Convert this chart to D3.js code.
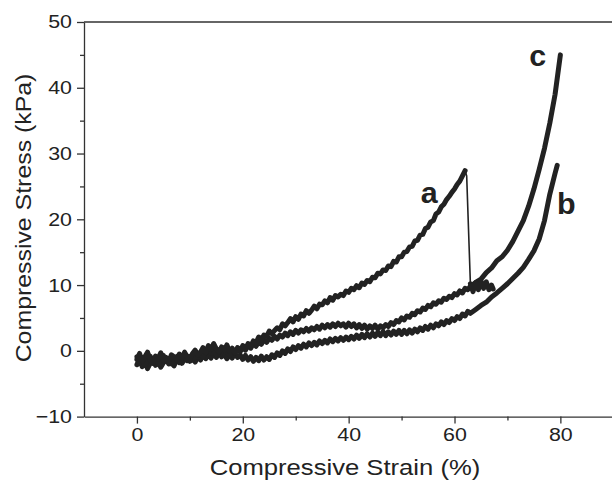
<!DOCTYPE html>
<html>
<head>
<meta charset="utf-8">
<script src="https://cdn.jsdelivr.net/npm/d3@7/dist/d3.min.js"></script>
<style>
  html, body { margin: 0; padding: 0; background: #fff; }
  svg { display: block; }
  text { font-family: "Liberation Sans", Arial, sans-serif; fill: #222; }
</style>
</head>
<body>
<svg id="chart" width="612" height="480"></svg>
<script>
// ---- data ----
const xTicksMajor = [0, 20, 40, 60, 80];
const xTicksMinor = [10, 30, 50, 70];
const yTicksMajor = [-10, 0, 10, 20, 30, 40, 50];
const yTicksMinor = [-5, 5, 15, 25, 35, 45];

// shared strain sampling (%) for the noisy low-strain part of every curve
const strainGrid = [0,0.5,1,1.5,2,2.5,3,3.5,4,4.5,5,5.5,6,6.5,7,7.5,8,8.5,9,9.5,10,10.5,11,11.5,12,12.5,13,13.5,14,14.5,15,15.5,16,16.5,17,17.5,18,18.5,19,19.5,20,20.5,21,21.5,22,22.5,23,23.5,24,24.5,25,25.5,26,26.5,27,27.5,28,28.5,29,29.5,30,30.5,31,31.5,32,32.5,33,33.5,34,34.5,35,35.5,36,36.5,37,37.5,38,38.5,39,39.5,40,40.5,41,41.5,42,42.5,43,43.5,44,44.5,45,45.5,46,46.5,47,47.5,48,48.5,49,49.5,50,50.5,51,51.5,52,52.5,53,53.5,54,54.5,55,55.5,56,56.5,57,57.5,58,58.5,59,59.5,60,60.5,61,61.5,62,62.5,63];

// curve a: loading up to failure (strain 0 .. 62)
const stressA = [-1.3,-0.4,-1.6,-0.9,-0.2,-1.4,-1.9,-0.8,-1.2,-0.3,-1.5,-1.0,-1.7,-0.6,-0.9,-1.4,-0.5,-1.1,-0.2,-0.9,-1.3,-0.4,0.1,-0.7,-0.2,0.5,-0.3,0.8,0.2,1.1,0.3,-0.2,0.6,0.1,0.9,-0.1,0.4,-0.3,0.5,0.0,0.8,0.3,1.1,0.7,1.5,1.2,2.1,1.7,2.4,2.2,3.0,2.6,3.1,3.5,3.2,4.1,3.8,4.3,4.9,4.4,5.2,4.8,5.6,5.3,6.1,5.7,6.2,6.8,6.4,7.1,7.0,7.6,7.3,8.1,7.7,8.4,8.2,8.6,8.4,9.1,8.9,9.5,9.3,9.9,9.6,10.3,10.1,10.7,10.5,11.2,11.1,11.8,11.7,12.3,12.2,12.9,12.8,13.6,13.5,14.3,14.3,15.0,15.1,15.8,15.9,16.7,16.8,17.6,17.7,18.6,18.8,19.6,19.8,20.8,21.1,21.9,22.3,23.0,23.5,24.1,24.6,25.3,25.8,26.6,27.4];
// curve a: sudden drop after failure
const strainADrop = [62, 62.3, 63];
const stressADrop = [27.4, 26.6, 10.2];
// curve a: tail after the drop
const strainATail = [63, 63.5, 64, 64.5, 65, 65.5, 66, 66.5, 67, 67.3];
const stressATail = [10.2, 9.0, 10.4, 9.3, 10.6, 9.5, 10.5, 9.3, 10.0, 9.4];

// curve c (strain 0 .. 63 on strainGrid, then the steep part)
const stressC = [-0.9,-1.9,-1.2,-2.2,-1.5,-0.8,-1.7,-1.1,-2.0,-1.4,-0.7,-1.6,-1.2,-2.0,-1.3,-0.9,-1.8,-1.2,-0.6,-1.5,-0.9,-1.4,-0.5,-1.0,-0.3,-0.9,-0.2,0.4,-0.4,0.2,-0.6,0.1,-0.3,0.4,-0.2,-0.7,0.1,-0.4,0.3,-0.1,0.5,0.1,0.8,0.4,1.1,0.7,1.3,1.0,1.7,1.3,1.9,1.6,2.2,1.8,2.4,2.1,2.7,2.3,2.9,2.5,3.1,2.7,3.2,2.9,3.4,3.0,3.5,3.2,3.7,3.3,3.9,3.5,4.0,3.6,4.1,3.7,4.2,3.8,4.1,3.6,4.2,3.7,4.1,3.5,4.0,3.4,3.9,3.3,3.8,3.4,3.9,3.3,3.8,3.5,4.0,3.7,4.3,4.0,4.6,4.4,5.0,4.7,5.3,5.1,5.7,5.5,6.1,5.9,6.5,6.3,6.9,6.7,7.3,7.1,7.6,7.4,8.0,7.8,8.3,8.1,8.7,8.5,9.1,8.8,9.5,9.3,9.8];
const strainCSteep = [64, 65, 66, 67, 68, 69, 70, 71, 72, 73, 74, 75, 76, 77, 78, 79, 80];
const stressCSteep = [10.4, 10.9, 11.9, 12.6, 13.7, 14.3, 15.3, 16.6, 18.2, 19.8, 22.0, 24.6, 27.6, 30.8, 34.6, 39.0, 45.0];

// curve b (strain 0 .. 63 on strainGrid, then the steep part)
const stressB = [-2.1,-1.2,-2.4,-1.6,-2.7,-1.9,-1.3,-2.2,-1.6,-2.5,-1.8,-1.2,-2.0,-1.5,-2.3,-1.4,-1.0,-1.9,-1.3,-0.8,-1.6,-1.0,-1.7,-0.9,-1.4,-0.6,-1.2,-0.5,-1.1,-0.4,-1.0,-0.3,-0.9,-0.5,-1.2,-0.6,-1.1,-0.4,-1.0,-0.6,-1.3,-0.7,-1.4,-0.9,-1.6,-1.0,-1.5,-0.8,-1.4,-0.9,-1.3,-0.6,-1.0,-0.3,-0.7,0.0,-0.4,0.3,-0.1,0.6,0.2,0.8,0.4,1.0,0.6,1.2,0.8,1.3,0.9,1.5,1.1,1.6,1.2,1.8,1.4,1.9,1.5,2.0,1.6,2.1,1.7,2.2,1.8,2.4,1.9,2.5,2.0,2.6,2.1,2.7,2.2,2.8,2.3,2.9,2.3,2.9,2.4,3.0,2.5,3.1,2.5,3.1,2.6,3.2,2.7,3.3,2.9,3.5,3.1,3.7,3.3,3.9,3.5,4.1,3.8,4.4,4.0,4.6,4.3,4.9,4.6,5.2,4.9,5.6,5.3,6.0,5.7];
const strainBSteep = [64, 65, 66, 67, 68, 69, 70, 71, 72, 73, 74, 75, 76, 77, 78, 79, 79.4];
const stressBSteep = [6.3, 6.9, 7.4, 8.2, 8.8, 9.5, 10.2, 11.0, 11.8, 12.7, 13.9, 15.2, 17.0, 19.8, 23.8, 27.0, 28.2];

const curveLabels = ["a", "b", "c"];
const labelAnchors = [[55.2, 22.5], [81.1, 20.8], [75.7, 43.3]]; // [strain, stress] of each label's baseline centre

// ---- layout ----
const svg = d3.select("#chart");
const x = d3.scaleLinear().domain([-10, 90]).range([84, 613.3]);
const y = d3.scaleLinear().domain([-10, 50]).range([416.6, 22]);

const ink = "#222";
const SX = 1.15; // horizontal widening of the reference lettering

const line = d3.line().x(d => x(d[0])).y(d => y(d[1]));
const zip = (xs, ys) => ys.map((v, i) => [xs[i], v]);

const seriesA = zip(strainGrid, stressA);
const seriesC = zip(strainGrid, stressC).concat(zip(strainCSteep, stressCSteep));
const seriesB = zip(strainGrid, stressB).concat(zip(strainBSteep, stressBSteep));
const seriesATail = zip(strainATail, stressATail);

const g = svg.append("g");
[seriesB, seriesC, seriesA, seriesATail].forEach(s => {
  g.append("path").datum(s).attr("d", line)
    .attr("fill", "none").attr("stroke", ink).attr("stroke-width", 5)
    .attr("stroke-linejoin", "round").attr("stroke-linecap", "round");
});
g.append("path").datum(zip(strainADrop, stressADrop)).attr("d", line)
  .attr("fill", "none").attr("stroke", ink).attr("stroke-width", 1.6);

// axes
const xAxis = d3.axisBottom(x).tickValues(xTicksMajor).tickSize(7).tickSizeOuter(0).tickPadding(4);
const yAxis = d3.axisLeft(y).tickValues(yTicksMajor).tickSize(7).tickSizeOuter(0).tickPadding(5);

const gx = svg.append("g").attr("transform", `translate(0,${y(-10)})`).call(xAxis);
const gy = svg.append("g").attr("transform", `translate(${x(-10)},0)`).call(yAxis);
svg.append("g").attr("transform", `translate(0,${y(-10)})`)
  .call(d3.axisBottom(x).tickValues(xTicksMinor).tickSize(4).tickFormat("").tickSizeOuter(0))
  .select(".domain").remove();
svg.append("g").attr("transform", `translate(${x(-10)},0)`)
  .call(d3.axisLeft(y).tickValues(yTicksMinor).tickSize(4).tickFormat("").tickSizeOuter(0))
  .select(".domain").remove();

svg.selectAll(".domain, .tick line").attr("stroke", "#333").attr("stroke-width", 1.3);
svg.selectAll(".tick text").attr("font-size", 18.6)
  .attr("font-family", "Liberation Sans, Arial, sans-serif").attr("fill", "#222");
gx.selectAll(".tick text").attr("transform", `scale(${SX},1)`);
gy.selectAll(".tick text").attr("x", -12 / SX).attr("transform", `scale(${SX},1)`);

// top border
svg.append("line").attr("x1", x(-10)).attr("x2", x(90)).attr("y1", y(50)).attr("y2", y(50))
  .attr("stroke", "#333").attr("stroke-width", 1.3);

// titles
svg.append("text").attr("transform", `translate(345,475) scale(${SX},1)`).attr("text-anchor", "middle")
  .attr("font-size", 22.3).text("Compressive Strain (%)");
svg.append("text").attr("transform", `translate(31,218) rotate(-90) scale(${SX * 0.97},1)`).attr("text-anchor", "middle")
  .attr("font-size", 22.3).text("Compressive Stress (kPa)");

// curve labels
curveLabels.forEach((t, i) => {
  svg.append("text")
    .attr("transform", `translate(${x(labelAnchors[i][0])},${y(labelAnchors[i][1])}) scale(1.05,1)`)
    .attr("text-anchor", "middle").attr("font-weight", "bold").attr("font-size", 29).text(t);
});
</script>
</body>
</html>
